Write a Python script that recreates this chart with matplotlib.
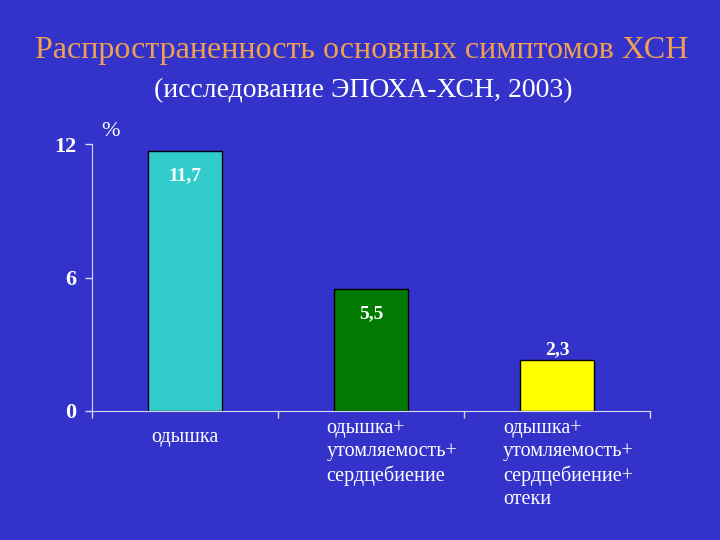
import matplotlib.pyplot as plt
import numpy as np

# Данные
categories = ['одышка',
              'одышка+\nутомляемость+\nсердцебиение',
              'одышка+\nутомляемость+\nсердцебиение+\nотеки']
values = [11.7, 5.5, 2.3]
value_labels = ['11,7', '5,5', '2,3']
bar_colors = ['#33CCCC', '#007A00', '#FFFF00']
yticks = [0, 6, 12]

bg = '#3333CC'
axis_col = '#D8D8F0'
plt.rcParams['font.family'] = ['Liberation Serif', 'DejaVu Serif']

fig = plt.figure(figsize=(7.2, 5.4), dpi=100, facecolor=bg)
ax = fig.add_axes([0.1278, 0.2389, 0.775, 0.4944], facecolor=bg)

x = np.arange(len(values))
ax.bar(x, values, width=0.4, color=bar_colors, edgecolor='black', linewidth=1)

ax.set_xlim(-0.5, 2.5)
ax.set_ylim(0, 12)

# Подписи значений
label_offsets = [-18, -18, 7]
for xi, v, lab, off in zip(x, values, value_labels, label_offsets):
    ax.annotate(lab, xy=(xi, v), xytext=(0, off), textcoords='offset points',
                ha='center', va='center', color='white', fontsize=14,
                fontweight='bold')

# Подписи категорий
cat_dx = [-24, -32, -39]
cat_dy = [-12, -6, -6]
for xi, lab, dx, dy in zip(x, categories, cat_dx, cat_dy):
    ax.annotate(lab, xy=(xi, 0), xycoords=('data', 'axes fraction'),
                xytext=(dx, dy), textcoords='offset points',
                ha='left', va='top', color='white', fontsize=14.5,
                linespacing=1.27)

# Оси
ax.set_yticks(yticks)
ax.set_yticklabels([str(t) for t in yticks], fontsize=16, fontweight='bold',
                   color='white')
ax.set_xticks([-0.5, 0.5, 1.5, 2.5])
ax.set_xticklabels([])
ax.tick_params(axis='both', direction='out', length=5, color=axis_col, width=1)
for s in ['top', 'right']:
    ax.spines[s].set_visible(False)
for s in ['left', 'bottom']:
    ax.spines[s].set_color(axis_col)
ax.tick_params(axis='y', pad=6)

ax.text(0.033, 1.01, '%', transform=ax.transAxes, color='white', fontsize=16,
        ha='center', va='bottom')

# Заголовки
fig.text(0.503, 0.906, 'Распространенность основных симптомов ХСН',
         color='#F0A050', fontsize=23, ha='center', va='center')
fig.text(0.505, 0.833, '(исследование ЭПОХА-ХСН, 2003)',
         color='white', fontsize=20, ha='center', va='center')

fig.savefig('out.png', dpi=100, facecolor=bg)
